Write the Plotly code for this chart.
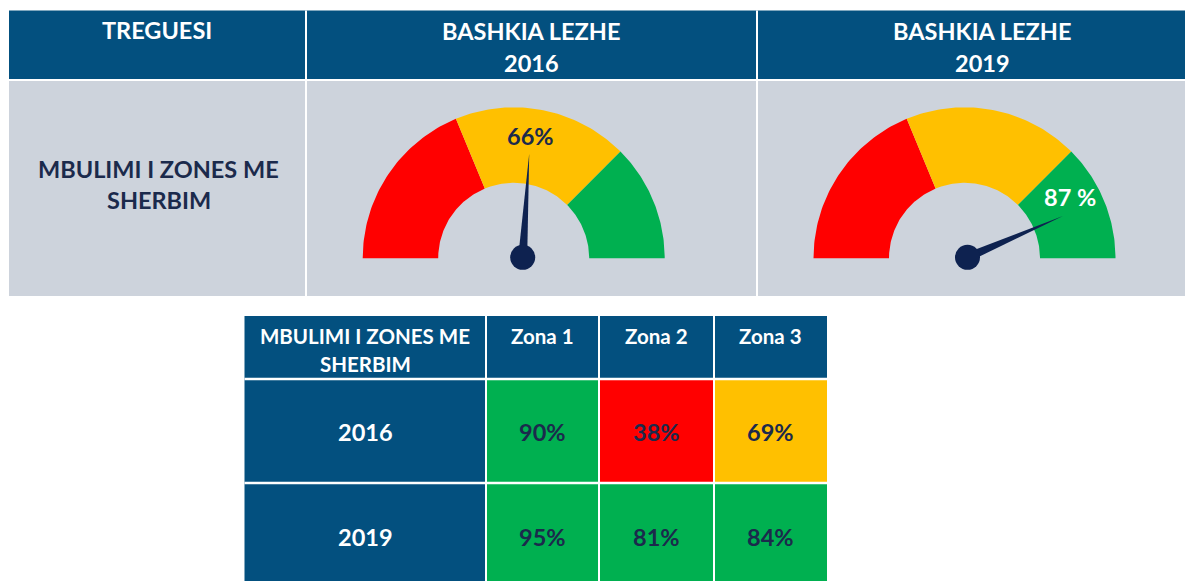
import math
import plotly.graph_objects as go

# ---------------- data ----------------
header_labels = ["TREGUESI", "BASHKIA LEZHE", "BASHKIA LEZHE"]
header_years = ["", "2016", "2019"]
indicator_lines = ["MBULIMI I ZONES ME", "SHERBIM"]
gauge_values = [66, 87]            # displayed values
gauge_texts = ["66%", "87 %"]
needle_values = [52, 87]           # where the needle points
band_edges = [0, 37.5, 75, 100]    # red / yellow / green bands of the gauge
table_header = ["MBULIMI I ZONES ME", "SHERBIM"]
zones = ["Zona 1", "Zona 2", "Zona 3"]
years = ["2016", "2019"]
coverage_2016 = [90, 38, 69]
coverage_2019 = [95, 81, 84]
table_thresholds = [40, 75]

# ---------------- style ----------------
W, H = 1193, 581
PAGE_MARGIN = 8  # default body margin of the html page
BLUE = "#03507F"
GREY = "#CDD3DC"
NAVY = "#1B2A4C"
NEEDLE = "#0E2250"
RED, YELLOW, GREEN = "#FF0000", "#FFC000", "#00B050"
band_colors = [RED, YELLOW, GREEN]
FONT = "Lato"
BIG = 23.5
SMALL = 20.5

fig = go.Figure()
shapes = []
annotations = []


def rect(x0, y0, x1, y1, color):
    shapes.append(dict(type="rect", xref="x", yref="y", x0=x0, y0=y0, x1=x1, y1=y1,
                       fillcolor=color, line=dict(width=0), layer="below"))


def vline(x, y0, y1, width=2):
    shapes.append(dict(type="line", xref="x", yref="y", x0=x, x1=x, y0=y0, y1=y1,
                       line=dict(color="white", width=width), layer="below"))


def hline(y, x0, x1, width=2):
    shapes.append(dict(type="line", xref="x", yref="y", x0=x0, x1=x1, y0=y, y1=y,
                       line=dict(color="white", width=width), layer="below"))


def text(x, y, s, size, color, xanchor="center"):
    annotations.append(dict(x=x, y=y, xref="x", yref="y", text="<b>%s</b>" % s,
                            showarrow=False, xanchor=xanchor, yanchor="middle",
                            font=dict(family=FONT, size=size, color=color)))


# ---------------- top table ----------------
top_cols = [9, 306, 757, W + 5]
top_rows = [10.5, 80, 296]
for i in range(3):
    rect(top_cols[i], top_rows[0], top_cols[i + 1], top_rows[1], BLUE)
    rect(top_cols[i], top_rows[1], top_cols[i + 1], top_rows[2], GREY)
for x in top_cols[1:3]:
    vline(x, top_rows[0], top_rows[2])
hline(top_rows[1], top_cols[0], top_cols[-1])

header_x = [157, 531, 982]
text(header_x[0], 30, header_labels[0], BIG, "white")
for i in (1, 2):
    text(header_x[i], 30.5, header_labels[i], BIG, "white")
    text(header_x[i], 62.5, header_years[i], BIG, "white")
text(158.5, 168.5, indicator_lines[0], BIG, NAVY)
text(158.5, 200, indicator_lines[1], BIG, NAVY)

# ---------------- gauges ----------------
gauge_centers = [(513.7, 258.3), (964.5, 258.3)]
pivot_offsets = [9, 3]
R_OUT, R_IN = 151, 75.5
label_pos = [(530.5, 135.5), (1070, 196.5)]
label_colors = [NAVY, "white"]


def ang(v):
    return math.pi * (1 - v / 100.0)


for g, (cx, cy) in enumerate(gauge_centers):
    for b in range(3):
        v0, v1 = band_edges[b], band_edges[b + 1]
        n = 60
        xs, ys = [], []
        for k in range(n + 1):
            t = ang(v0 + (v1 - v0) * k / n)
            xs.append(cx + R_OUT * math.cos(t))
            ys.append(cy - R_OUT * math.sin(t))
        for k in range(n, -1, -1):
            t = ang(v0 + (v1 - v0) * k / n)
            xs.append(cx + R_IN * math.cos(t))
            ys.append(cy - R_IN * math.sin(t))
        fig.add_trace(go.Scatter(x=xs, y=ys, fill="toself", mode="lines",
                                 fillcolor=band_colors[b], line=dict(width=0, color=band_colors[b]),
                                 hoverinfo="skip", showlegend=False))
    # needle
    px, py = cx + pivot_offsets[g], cy - 1
    t = ang(needle_values[g])
    L, hw = 104, 4.5
    tipx, tipy = px + L * math.cos(t), py - L * math.sin(t)
    nx, ny = -math.sin(t), -math.cos(t)
    fig.add_trace(go.Scatter(x=[px + hw * nx, tipx, px - hw * nx, px + hw * nx],
                             y=[py + hw * ny, tipy, py - hw * ny, py + hw * ny],
                             fill="toself", mode="lines", fillcolor=NEEDLE,
                             line=dict(width=0, color=NEEDLE), hoverinfo="skip", showlegend=False))
    fig.add_trace(go.Scatter(x=[px], y=[py], mode="markers",
                             marker=dict(size=25, color=NEEDLE, line=dict(width=0)),
                             hoverinfo="skip", showlegend=False))
    text(label_pos[g][0], label_pos[g][1], gauge_texts[g], BIG, label_colors[g])

# ---------------- bottom table ----------------
bt_cols = [244.5, 486, 599, 714, 827]
bt_rows = [316, 379, 483, 600]


def cell_color(v):
    if v < table_thresholds[0]:
        return RED
    if v < table_thresholds[1]:
        return YELLOW
    return GREEN


for c in range(4):
    rect(bt_cols[c], bt_rows[0], bt_cols[c + 1], bt_rows[1], BLUE)
text(365, 335.5, table_header[0], SMALL, "white")
text(365, 363.5, table_header[1], SMALL, "white")
for j, z in enumerate(zones):
    text((bt_cols[j + 1] + bt_cols[j + 2]) / 2, 335.5, z, SMALL, "white")

for r, (yr, vals) in enumerate(zip(years, [coverage_2016, coverage_2019])):
    y0, y1 = bt_rows[r + 1], bt_rows[r + 2]
    rect(bt_cols[0], y0, bt_cols[1], y1, BLUE)
    ty = 432 if r == 0 else 536.5
    text(365, ty, yr, BIG, "white")
    for j, v in enumerate(vals):
        rect(bt_cols[j + 1], y0, bt_cols[j + 2], y1, cell_color(v))
        text((bt_cols[j + 1] + bt_cols[j + 2]) / 2, ty, "%d%%" % v, BIG, NAVY)

for x in bt_cols[1:4]:
    vline(x, bt_rows[0], bt_rows[-1])
for y in bt_rows[1:3]:
    hline(y, bt_cols[0], bt_cols[-1], width=2.5)

fig.update_layout(
    width=W - PAGE_MARGIN, height=H - PAGE_MARGIN, autosize=False,
    margin=dict(l=0, r=0, t=0, b=0),
    paper_bgcolor="white", plot_bgcolor="white",
    xaxis=dict(range=[PAGE_MARGIN, W], visible=False, fixedrange=True),
    yaxis=dict(range=[H, PAGE_MARGIN], visible=False, fixedrange=True),
    shapes=shapes, annotations=annotations, showlegend=False,
)
fig.write_html("out.html", config={"displayModeBar": False})
